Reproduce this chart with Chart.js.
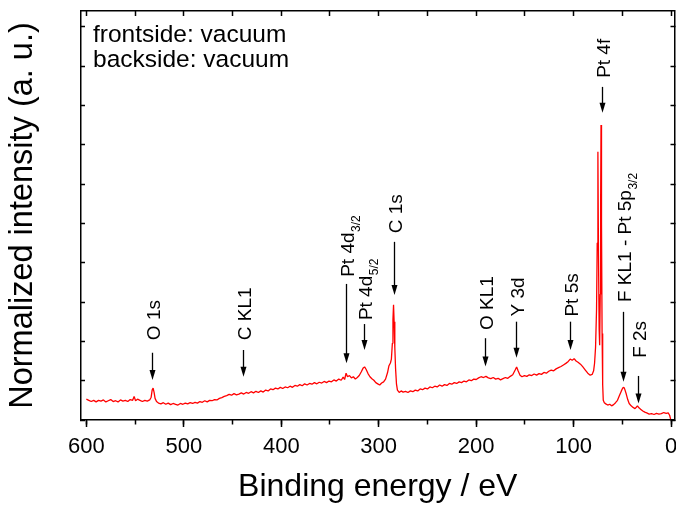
<!DOCTYPE html>
<html>
<head>
<meta charset="utf-8">
<script src="https://cdn.jsdelivr.net/npm/chart.js@4.4.1/dist/chart.umd.min.js"></script>
<style>
  html, body { margin: 0; padding: 0; background: #fff; }
  canvas { display: block; }
</style>
</head>
<body>
<canvas id="xps" width="676" height="506"></canvas>
<script>
// XPS survey: binding energy (eV) and normalized intensity
const bindingEnergy = [
  600, 597.5, 595, 592.5, 590, 587.5, 585, 582.5, 580, 577.5,
  575, 572.5, 570, 567.5, 565, 562.5, 560, 557.5, 555, 552.5,
  551, 549.5, 547.5, 545, 542.5, 540, 537.5, 535, 533.5, 532.5,
  531.5, 530.5, 529.5, 528, 526, 523.5, 521, 518.5, 516, 513.5,
  511, 508.5, 506, 503.5, 501, 498.5, 496, 493.5, 491, 488.5,
  486, 483.5, 481, 478.5, 476, 473.5, 471, 468.5, 466, 463.5,
  461, 458.5, 456, 453.5, 451, 448.5, 446, 443.5, 441, 438.5,
  436, 433.5, 431, 428.5, 426, 423.5, 421, 418.5, 416, 413.5,
  411, 408.5, 406, 403.5, 401, 398.5, 396, 393.5, 391, 388.5,
  386, 383.5, 381, 378.5, 376, 373.5, 371, 368.5, 366, 363.5,
  361, 358.5, 356, 353.5, 351, 348.5, 346, 343.5, 341, 338.5,
  336.5, 335, 333.5, 332, 330, 328, 326, 324, 322, 320,
  318, 316, 314.5, 313, 311, 309, 307, 305, 303, 301,
  299, 297, 295, 293, 291, 289.5, 288, 287, 286, 285.4,
  284.8, 284.2, 283.5, 282.7, 281.8, 280.8, 279, 277, 275, 272.5,
  270, 267.5, 265, 262.5, 260, 257.5, 255, 252.5, 250, 247.5,
  245, 242.5, 240, 237.5, 235, 232.5, 230, 227.5, 225, 222.5,
  220, 217.5, 215, 212.5, 210, 207.5, 205, 202.5, 200, 197.5,
  195, 192.5, 190, 187.5, 185, 182.5, 180, 177.5, 175, 172.5,
  170, 167.5, 165, 162.5, 160, 158.5, 157, 155, 153, 150.5,
  148, 145.5, 143, 140.5, 138, 135.5, 133, 130.5, 128, 125.5,
  123, 120.5, 118, 115.5, 113, 110.5, 108, 105.5, 103.5, 101.5,
  99.5, 97.5, 95.5, 93, 90.5, 88, 85.5, 83, 81, 79.5,
  78.5, 77.5, 76.5, 75.8, 75.1, 74.5, 73.8, 73.3, 72.7, 72.3,
  71.9, 71.4, 70.8, 70.2, 69.6, 68.5, 67, 65, 63, 61,
  59, 57, 55, 53, 51, 49.5, 48.5, 47.5, 46, 44.5,
  43, 41, 39, 37, 35.5, 34.5, 33, 31, 29, 27,
  25, 22.5, 20, 17.5, 15, 12.5, 10, 7.5, 5, 3,
  1.5, 0.5
];
const intensity = [
  0.53, 0.50, 0.47, 0.50, 0.46, 0.50, 0.48, 0.51, 0.46, 0.49,
  0.52, 0.47, 0.49, 0.46, 0.51, 0.48, 0.50, 0.47, 0.52, 0.50,
  0.60, 0.49, 0.53, 0.50, 0.47, 0.50, 0.48, 0.51, 0.58, 0.76,
  0.81, 0.70, 0.55, 0.47, 0.43, 0.41, 0.44, 0.40, 0.43, 0.39,
  0.42, 0.40, 0.38, 0.42, 0.40, 0.43, 0.41, 0.44, 0.42, 0.45,
  0.43, 0.47, 0.45, 0.49, 0.46, 0.50, 0.49, 0.52, 0.51, 0.55,
  0.57, 0.60, 0.62, 0.65, 0.63, 0.67, 0.64, 0.66, 0.69, 0.66,
  0.70, 0.68, 0.72, 0.69, 0.73, 0.70, 0.74, 0.71, 0.76, 0.74,
  0.79, 0.77, 0.81, 0.79, 0.83, 0.80, 0.84, 0.82, 0.86, 0.83,
  0.88, 0.86, 0.90, 0.87, 0.92, 0.89, 0.93, 0.91, 0.95, 0.92,
  0.96, 0.94, 0.98, 0.95, 0.99, 0.97, 1.02, 0.99, 1.04, 1.01,
  1.09, 1.03, 1.19, 1.10, 1.13, 1.07, 1.10, 1.04, 1.08, 1.13,
  1.22, 1.32, 1.35, 1.29, 1.18, 1.10, 1.05, 1.01, 0.95, 0.92,
  0.89, 0.94, 0.97, 1.04, 1.20, 1.38, 1.45, 1.55, 1.95, 2.55,
  2.93, 2.50, 1.85, 1.30, 0.92, 0.76, 0.70, 0.74, 0.71, 0.73,
  0.70, 0.74, 0.72, 0.76, 0.74, 0.79, 0.77, 0.81, 0.79, 0.84,
  0.82, 0.86, 0.84, 0.89, 0.86, 0.90, 0.88, 0.93, 0.91, 0.95,
  0.93, 0.97, 0.95, 0.99, 0.97, 1.02, 1.00, 1.04, 1.03, 1.07,
  1.10, 1.08, 1.11, 1.07, 1.05, 1.08, 1.04, 1.06, 1.02, 1.05,
  1.08, 1.06, 1.11, 1.15, 1.27, 1.35, 1.25, 1.14, 1.10, 1.13,
  1.11, 1.15, 1.13, 1.17, 1.14, 1.18, 1.16, 1.21, 1.19, 1.24,
  1.27, 1.25, 1.30, 1.33, 1.36, 1.40, 1.44, 1.49, 1.55, 1.52,
  1.56, 1.50, 1.47, 1.42, 1.35, 1.27, 1.19, 1.14, 1.16, 1.25,
  1.45, 1.85, 2.80, 4.50, 6.82, 4.20, 2.30, 1.90, 3.20, 5.50,
  7.50, 5.00, 2.20, 0.90, 0.50, 0.44, 0.41, 0.38, 0.40, 0.36,
  0.39, 0.44, 0.50, 0.62, 0.74, 0.82, 0.83, 0.78, 0.66, 0.52,
  0.42, 0.36, 0.32, 0.29, 0.33, 0.36, 0.31, 0.27, 0.23, 0.20,
  0.18, 0.15, 0.16, 0.14, 0.17, 0.15, 0.16, 0.19, 0.17, 0.18,
  0.12, 0.02
];

const energyTicks = [600, 500, 400, 300, 200, 100, 0];

// peak assignments: label, subscript, energy, arrow tip / tail and label start (intensity units)
const peakNames = ['O 1s', 'C KL1', 'Pt 4d', 'Pt 4d', 'C 1s', 'O KL1', 'Y 3d', 'Pt 5s', 'Pt 4f', 'F KL1 - Pt 5p', 'F 2s'];
const peakSubs = ['', '', '3/2', '5/2', '', '', '', '', '', '3/2', ''];
const peakEnergy = [533, 439.5, 333.5, 315, 284.8, 191.3, 158.8, 103.4, 70.8, 49.3, 34.3];
const arrowTip = [1.02, 1.10, 1.44, 1.78, 3.18, 1.36, 1.58, 1.78, 7.81, 0.97, 0.42];
const arrowTail = [1.71, 1.78, 3.46, 2.44, 4.53, 2.08, 2.50, 2.50, 8.47, 2.75, 1.12];
const labelStart = [2.03, 2.03, 3.64, 2.54, 4.75, 2.29, 2.63, 2.63, 8.70, 3.00, 1.58];

const sampleNotes = ['frontside: vacuum', 'backside: vacuum'];

const FONT = '"Liberation Sans", Arial, Helvetica, sans-serif';
Chart.defaults.font.family = FONT;
Chart.defaults.color = '#000';

const peakMarks = {
  id: 'peakMarks',
  afterDatasetsDraw(chart) {
    const { ctx, chartArea, scales: { x, y } } = chart;
    ctx.save();
    ctx.strokeStyle = '#000';
    ctx.fillStyle = '#000';
    ctx.lineWidth = 1.3;
    peakNames.forEach((name, i) => {
      const px = Math.round(x.getPixelForValue(peakEnergy[i])) + 0.5;
      const tip = y.getPixelForValue(arrowTip[i]);
      const tail = y.getPixelForValue(arrowTail[i]);
      ctx.beginPath();
      ctx.moveTo(px, tail);
      ctx.lineTo(px, tip - 8);
      ctx.stroke();
      ctx.beginPath();
      ctx.moveTo(px - 3, tip - 10);
      ctx.lineTo(px + 3, tip - 10);
      ctx.lineTo(px, tip);
      ctx.closePath();
      ctx.fill();

      // label runs bottom to top above the arrow
      ctx.save();
      ctx.translate(px + 7, y.getPixelForValue(labelStart[i]));
      ctx.rotate(-Math.PI / 2);
      ctx.textAlign = 'left';
      ctx.textBaseline = 'alphabetic';
      ctx.font = '19px ' + FONT;
      ctx.fillText(name, 0, 0);
      if (peakSubs[i]) {
        const w = ctx.measureText(name).width;
        ctx.font = '12px ' + FONT;
        ctx.fillText(peakSubs[i], w + 0.5, 6);
      }
      ctx.restore();
    });

    ctx.font = '24.5px ' + FONT;
    ctx.textAlign = 'left';
    ctx.textBaseline = 'alphabetic';
    sampleNotes.forEach((t, i) => {
      ctx.fillText(t, chartArea.left + 12, chartArea.top + 31 + i * 24.5);
    });
    ctx.restore();
  }
};

const xRange = { min: -3.5, max: 605.5 };
const yRange = { min: 0, max: 10.4 };

new Chart(document.getElementById('xps'), {
  type: 'line',
  data: {
    datasets: [{
      data: bindingEnergy.map((e, i) => ({ x: e, y: intensity[i] })),
      borderColor: '#ff0000',
      borderWidth: 1.3,
      borderJoinStyle: 'bevel',
      pointRadius: 0,
      tension: 0,
      fill: false
    }]
  },
  options: {
    responsive: false,
    animation: false,
    devicePixelRatio: 1,
    layout: { padding: { top: 11, right: 1.5, left: 0, bottom: 0 } },
    plugins: { legend: { display: false }, tooltip: { enabled: false } },
    scales: {
      x: {
        type: 'linear', position: 'bottom', reverse: true, ...xRange,
        ticks: { maxRotation: 0, autoSkip: false, padding: 7, font: { size: 22 } },
        // labelled ticks every 100 eV
        afterBuildTicks(s) { s.ticks = energyTicks.map(v => ({ value: v })); },
        grid: { drawOnChartArea: false, tickLength: 7, tickWidth: 1.5, tickColor: '#000' },
        border: { color: '#000', width: 1.5 },
        title: { display: true, text: 'Binding energy / eV', font: { size: 32 }, padding: { top: 0, bottom: 0 } },
        afterFit(s) { s.height = 86; s.paddingLeft = 0; s.paddingRight = 0; }
      },
      xMinor: {
        type: 'linear', position: 'bottom', reverse: true, weight: -1, ...xRange,
        ticks: { display: false, stepSize: 50, includeBounds: false },
        grid: { drawOnChartArea: false, tickLength: 4.5, tickWidth: 1.5, tickColor: '#000' },
        border: { display: false },
        afterFit(s) { s.height = 0; s.paddingLeft = 0; s.paddingRight = 0; }
      },
      xTop: {
        type: 'linear', position: 'top', reverse: true, ...xRange,
        ticks: { display: false, stepSize: 50, includeBounds: false },
        grid: { drawOnChartArea: false, tickLength: -5, tickWidth: 1.5, tickColor: '#000' },
        border: { color: '#000', width: 1.5 },
        afterFit(s) { s.height = 0; s.paddingLeft = 0; s.paddingRight = 0; }
      },
      y: {
        type: 'linear', position: 'left', ...yRange,
        ticks: { display: false, stepSize: 1, includeBounds: false },
        grid: { drawOnChartArea: false, tickLength: -4, tickWidth: 1.5, tickColor: '#000' },
        border: { color: '#000', width: 1.5 },
        title: { display: true, text: 'Normalized intensity (a. u.)', font: { size: 32.5 }, padding: { top: 4, bottom: 0 } },
        afterFit(s) { s.width = 81; }
      },
      yRight: {
        type: 'linear', position: 'right', ...yRange,
        ticks: { display: false, stepSize: 1, includeBounds: false },
        grid: { drawOnChartArea: false, tickLength: -4, tickWidth: 1.5, tickColor: '#000' },
        border: { color: '#000', width: 1.5 },
        afterFit(s) { s.width = 0; }
      }
    }
  },
  plugins: [peakMarks]
});
</script>
</body>
</html>
